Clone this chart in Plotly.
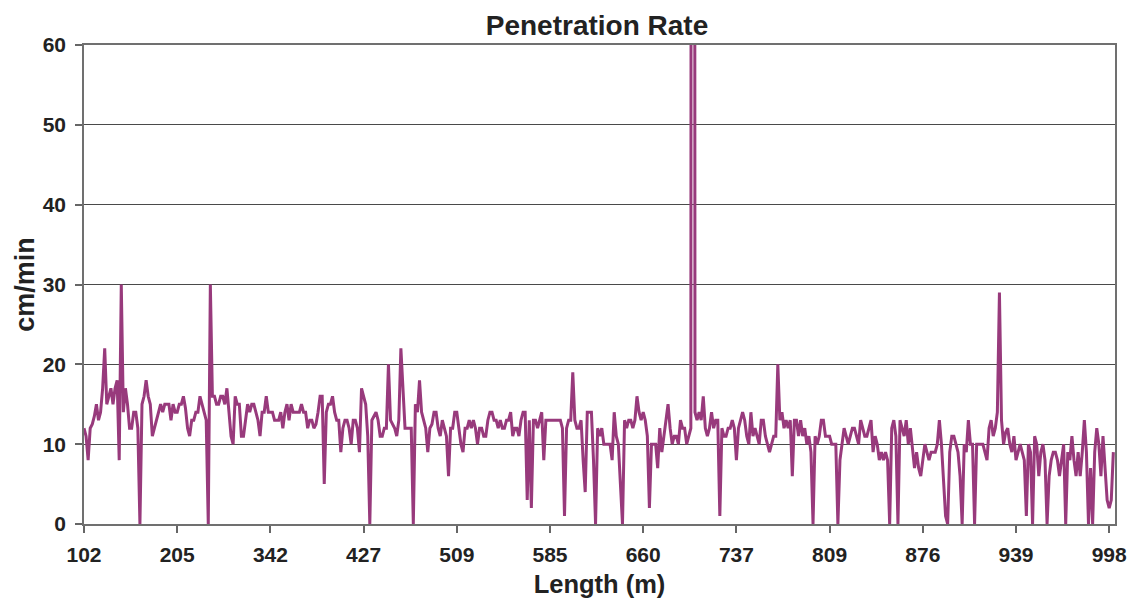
import plotly.graph_objects as go

# ---- data ----
tick_labels = ["102", "205", "342", "427", "509", "585", "660", "737", "809", "876", "939", "998"]
points_per_label = 45

rate_102_205 = [12, 11, 8, 12, 12.5, 13.5, 15, 13, 14, 17, 22, 15, 16, 17, 15, 17, 18, 8, 30, 14,
                17, 15, 12, 12, 14, 14, 12, 0, 15, 16, 18, 16, 15, 11, 12, 13, 14, 15, 14, 15,
                15, 15, 13, 15, 14]
rate_205_342 = [14, 15, 15, 16, 14.5, 12, 11, 13, 13, 14, 14, 16, 15, 14, 13, 0, 30, 16, 16, 15,
                15, 16, 16, 15, 17, 14, 11, 10, 16, 15, 15, 11, 11, 13, 15, 14, 15, 15, 14, 13,
                11, 14, 14, 16, 14]
rate_342_427 = [14, 14, 13, 13, 13, 14, 12, 14, 15, 13, 15, 14, 14, 14, 14, 15, 14, 14, 12, 13,
                13, 12, 12.5, 14, 16, 16, 5, 14, 15, 15, 16, 14, 13, 13, 9, 12, 13, 13, 12, 10,
                13, 13, 12, 9, 17]
rate_427_509 = [16, 15, 11, 0, 13, 13.5, 14, 13, 11, 11, 12, 12, 20, 13, 12.5, 12, 11, 13, 22, 16,
                12, 12, 12, 12, 0, 15, 14, 18, 14, 13, 12, 9, 12, 12.5, 14, 14, 12, 11, 13, 12,
                11, 6, 12, 12, 14]
rate_509_585 = [14, 12, 10, 9, 12, 12, 13, 12, 13, 12, 10, 12, 12, 11, 11, 13, 14, 14, 13, 13,
                12, 13, 12, 12, 13, 13, 14, 11, 12, 12, 11, 13, 14, 14, 3, 13, 2, 13, 13, 12,
                13, 14, 8, 13, 13]
rate_585_660 = [13, 13, 13, 13, 13, 13, 12, 1, 12, 13, 13, 19, 13, 12, 12, 13, 8, 4, 14, 14,
                14, 8, 0, 12, 11, 12, 10, 10, 10, 10, 8, 14, 11, 10, 5, 0, 13, 12, 13, 13,
                12, 13, 16, 14, 13]
rate_660_737 = [14, 13, 11, 2, 10, 10, 10, 7, 12, 9, 11, 13, 15, 12, 10, 11, 11, 10, 13, 12,
                12, 10, 11, 12, 600, 14, 13, 14, 13, 16, 12, 11, 12, 14, 12, 13, 13, 1, 12, 11,
                11, 12, 12, 13, 12]
rate_737_809 = [8, 12, 13, 14, 13, 11, 10, 14, 11, 12, 11, 10, 13, 13, 11, 10, 9, 10, 11, 11,
                20, 13, 14, 12, 13, 12, 13, 6, 13, 13, 11, 13, 11, 12, 10, 11, 9, 0, 11, 10,
                11, 13, 13, 11, 11]
rate_809_876 = [11, 10, 10, 10, 0, 8, 10, 12, 11, 10, 11, 12, 12, 11, 10, 13, 12, 11, 11, 12,
                13, 9, 11, 10, 8, 9, 8, 9, 8, 0, 12, 13, 11, 0, 13, 12, 11, 13, 10, 12,
                9, 7, 9, 7, 6]
rate_876_939 = [8, 10, 9, 8, 9, 9, 9, 10, 13, 10, 5, 1, 0, 9, 11, 11, 10, 9, 6, 0,
                10, 9, 13, 10, 10, 0, 10, 10, 10, 10, 9, 8, 12, 13, 11, 12, 14, 29, 13, 10,
                11.5, 12, 10, 9, 11]
rate_939_998 = [8, 9, 10, 9, 8, 1, 10, 9, 0, 11, 10, 6, 9, 10, 8, 0, 6, 8, 9, 9,
                8, 6, 8, 10, 0, 9, 8, 11, 8, 6, 9, 6, 9, 13, 9, 0, 7, 0, 9, 12,
                10, 6, 11, 7, 3, 2, 3, 9]

rate = (rate_102_205 + rate_205_342 + rate_342_427 + rate_427_509 + rate_509_585 +
        rate_585_660 + rate_660_737 + rate_737_809 + rate_809_876 + rate_876_939 +
        rate_939_998)
sample_index = list(range(len(rate)))
tick_positions = [i * points_per_label for i in range(len(tick_labels))]

FONT = "Liberation Sans, Arial, sans-serif"
TXT = "#222222"

# the page body has an 8px margin, so the figure is sized to fit inside it
W, H = 1131, 598

fig = go.Figure(
    go.Scatter(
        x=sample_index,
        y=rate,
        mode="lines",
        line=dict(color="#983A7C", width=3),
        showlegend=False,
        hoverinfo="x+y",
    )
)

fig.update_layout(
    width=W,
    height=H,
    autosize=False,
    margin=dict(l=76, r=15, t=37, b=72, pad=0),
    paper_bgcolor="white",
    plot_bgcolor="white",
    font=dict(family=FONT, color=TXT, weight="bold"),
    title=dict(
        text="Penetration Rate",
        x=(597 - 8) / W,
        xref="container",
        xanchor="center",
        y=1 - 7 / H,
        yref="container",
        yanchor="top",
        pad=dict(t=0, b=0),
        font=dict(family=FONT, size=28, color=TXT, weight="bold"),
    ),
)

fig.update_xaxes(
    range=[0, 497.8],
    tickmode="array",
    tickvals=tick_positions,
    ticktext=tick_labels,
    ticks="outside",
    ticklen=7,
    tickwidth=1.5,
    tickcolor="#666666",
    ticklabelstandoff=4,
    tickfont=dict(family=FONT, size=21, color=TXT, weight="bold"),
    showgrid=False,
    zeroline=False,
    showline=True,
    linecolor="#707070",
    linewidth=1.5,
    mirror=True,
    title=dict(text="Length (m)", standoff=10,
               font=dict(family=FONT, size=25.5, color=TXT, weight="bold")),
)

fig.update_yaxes(
    range=[0, 60],
    tickmode="linear",
    tick0=0,
    dtick=10,
    ticks="outside",
    ticklen=7,
    tickwidth=1.5,
    tickcolor="#666666",
    ticklabelstandoff=5,
    tickfont=dict(family=FONT, size=21, color=TXT, weight="bold"),
    showgrid=True,
    gridcolor="#4a4a4a",
    gridwidth=1,
    zeroline=False,
    showline=True,
    linecolor="#707070",
    linewidth=1.5,
    mirror=True,
    title=dict(text="cm/min", standoff=0,
               font=dict(family=FONT, size=27, color=TXT, weight="bold")),
)

fig.write_html("out.html")
